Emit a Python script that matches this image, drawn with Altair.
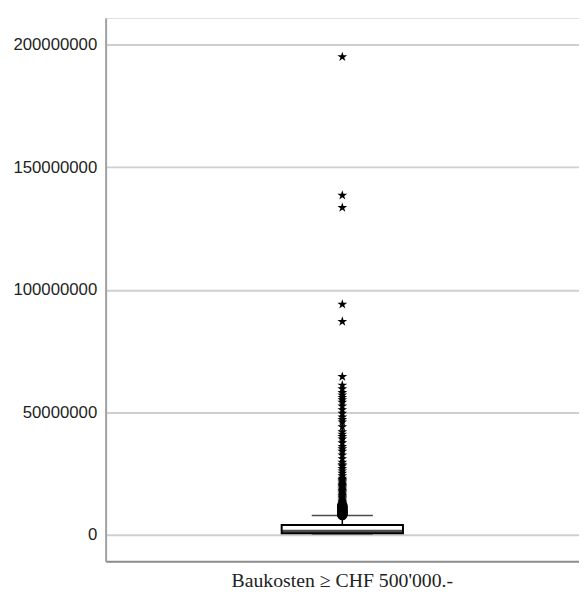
import altair as alt
import pandas as pd

category = "Baukosten \u2265 CHF 500'000.-"

# box statistics (CHF)
whisker_low = 500000
q1 = 600000
median = 1400000
q3 = 4000000
whisker_high = 7850000

# outliers (millions CHF)
mild_outliers = [8.0, 8.2, 8.4, 8.6, 8.8, 9.0, 9.2, 9.4, 9.6, 9.8, 10.0, 10.3,
                 10.6, 10.9, 11.2, 11.5, 11.8, 12.1]
extreme_outliers = [12.5, 13.0, 13.5, 14.0, 14.5, 15.0, 15.5, 16.0, 16.5, 17.0,
                    17.5, 18.0, 18.5, 19.0, 19.5, 20.0, 20.5, 21.0, 21.5, 22.0,
                    22.5, 23.0, 24.0, 25.0, 26.0, 27.0, 28.0, 28.5, 29.5, 31.0,
                    32.5, 34.0, 35.0, 36.0, 37.5, 39.0, 40.0, 41.0, 42.0, 44.0,
                    46.0, 47.0, 48.0, 49.5, 51.0, 52.5, 54.0, 55.0, 56.0, 57.0,
                    58.0, 59.5, 61.0, 64.5, 87.0, 94.0, 133.5, 138.5, 195.0]

y_ticks = [0, 50000000, 100000000, 150000000, 200000000]
y_domain = [-10870000, 210870000]

box_df = pd.DataFrame({
    "cat": [category], "lo": [whisker_low], "q1": [q1], "med": [median],
    "q3": [q3], "hi": [whisker_high],
})
mild_df = pd.DataFrame({"cat": category, "v": [m * 1e6 for m in mild_outliers]})
ext_df = pd.DataFrame({"cat": category, "v": [m * 1e6 for m in extreme_outliers]})

x_enc = alt.X("cat:N", title=None, scale=alt.Scale(paddingInner=0, paddingOuter=0),
              axis=alt.Axis(labelFont="Liberation Serif", labelFontSize=20,
                            labelColor="#222", labelAngle=0, ticks=False,
                            labelLimit=0,
                            domainColor="#8c8c8c", domainWidth=2, labelPadding=9,
                            grid=False))
y_scale = alt.Scale(domain=y_domain, nice=False, zero=False)
y_axis = alt.Axis(values=y_ticks, format="d", title=None, labelFont="Liberation Sans",
                  labelFontSize=17, labelColor="#222", ticks=False, labelPadding=9,
                  domainColor="#a0a0a0", domainWidth=2, gridColor="#cfcfcf",
                  gridWidth=2)

base = alt.Chart(box_df)

grid = base.mark_rule(opacity=0).encode(
    x=x_enc, y=alt.Y("q1:Q", scale=y_scale, axis=y_axis))

whisk_up = base.mark_rule(color="black", strokeWidth=1.5).encode(
    x="cat:N", y=alt.Y("q3:Q", scale=y_scale), y2="hi:Q")
whisk_dn = base.mark_rule(color="black", strokeWidth=1.5).encode(
    x="cat:N", y=alt.Y("lo:Q", scale=y_scale), y2="q1:Q")
cap_hi = base.mark_tick(color="black", thickness=1.5, size=62, orient="horizontal").encode(
    x="cat:N", y=alt.Y("hi:Q", scale=y_scale))
cap_lo = base.mark_tick(color="black", thickness=2, size=62, orient="horizontal").encode(
    x="cat:N", y=alt.Y("lo:Q", scale=y_scale))

mild = alt.Chart(mild_df).mark_point(shape="circle", filled=False, color="black",
                                     size=80, strokeWidth=1.5, opacity=1).encode(
    x="cat:N", y=alt.Y("v:Q", scale=y_scale))

star_path = ("M0,-1L0.2245,-0.309L0.951,-0.309L0.363,0.118L0.588,0.809L0,0.382"
             "L-0.588,0.809L-0.363,0.118L-0.951,-0.309L-0.2245,-0.309Z")
ext = alt.Chart(ext_df).mark_point(shape=star_path, filled=True, color="black",
                                   size=110, opacity=1).encode(
    x="cat:N", y=alt.Y("v:Q", scale=y_scale))

box = base.mark_bar(color="white", stroke="black", strokeWidth=2, size=123).encode(
    x="cat:N", y=alt.Y("q1:Q", scale=y_scale), y2="q3:Q")
med = base.mark_tick(color="black", thickness=3, size=123, orient="horizontal").encode(
    x="cat:N", y=alt.Y("med:Q", scale=y_scale))

chart = alt.layer(grid, whisk_up, whisk_dn, cap_hi, cap_lo, mild, ext, box, med).properties(
    width=480, height=551,
    autosize=alt.AutoSizeParams(type="none"),
    padding={"left": 99, "top": 6, "right": 0, "bottom": 30},
).configure_view(stroke=None).configure(background="white")

chart.save("out.html", embed_options={"renderer": "svg", "actions": False})
